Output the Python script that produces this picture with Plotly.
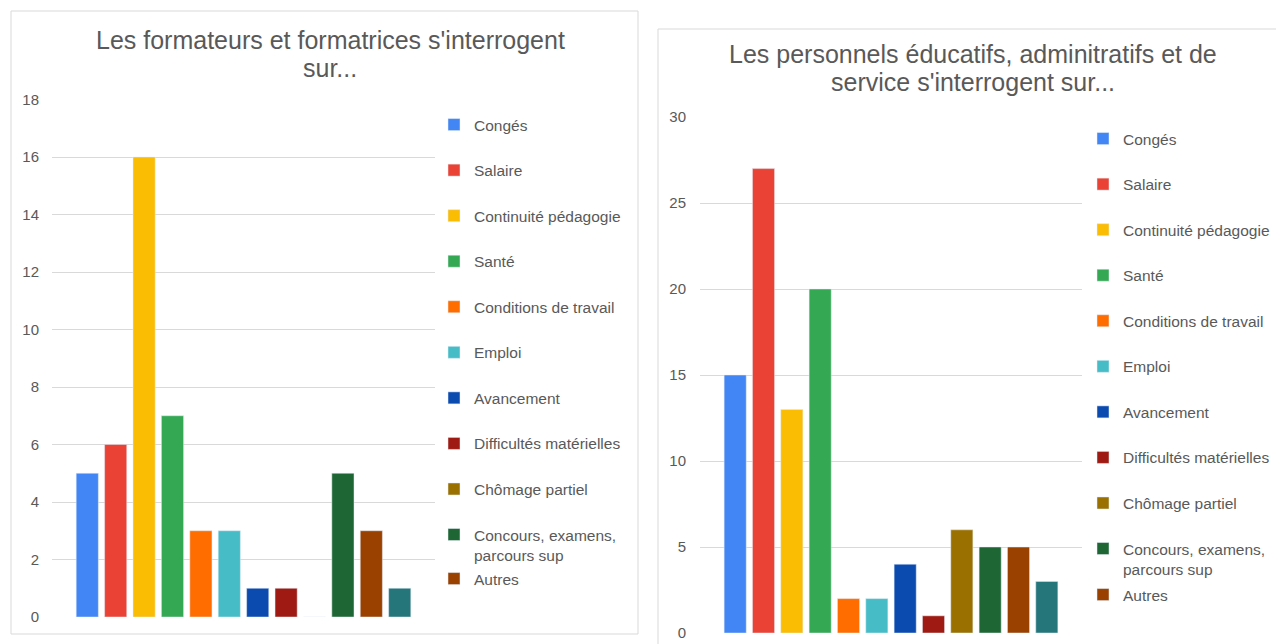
import plotly.graph_objects as go

W, H = 1276, 644

categories = ["Congés", "Salaire", "Continuité pédagogie", "Santé",
              "Conditions de travail", "Emploi", "Avancement",
              "Difficultés matérielles", "Chômage partiel",
              "Concours, examens,<br>parcours sup", "Autres", ""]
formateurs = [5, 6, 16, 7, 3, 3, 1, 1, 0, 5, 3, 1]
personnels = [15, 27, 13, 20, 2, 2, 4, 1, 6, 5, 5, 3]
colors = ["#4285F4", "#EA4335", "#FBBC04", "#34A853", "#FF6D01", "#46BDC6",
          "#0B4BB0", "#9E1A12", "#9A7100", "#1E6633", "#9B4100", "#24767A"]
title_left = ["Les formateurs et formatrices s'interrogent", "sur..."]
title_right = ["Les personnels éducatifs, adminitratifs et de",
               "service s'interrogent sur..."]
left_ticks = list(range(0, 19, 2))
right_ticks = list(range(0, 31, 5))

FONT = "Liberation Sans, Arial, sans-serif"
GREY = "#595959"
GRID = "#d9d9d9"


def px_x(p):
    return p / W


def px_y(p):
    return 1 - p / H


fig = go.Figure()
for i, (cat, col) in enumerate(zip(categories, colors)):
    show = cat != ""
    leg = "legend3" if cat == "Autres" else "legend"
    fig.add_trace(go.Bar(x=["q"], y=[formateurs[i]], name=cat, marker_color=col,
                         xaxis="x", yaxis="y", legend=leg,
                         legendgroup="a%d" % i, showlegend=show))
for i, (cat, col) in enumerate(zip(categories, colors)):
    show = cat != ""
    leg = "legend4" if cat == "Autres" else "legend2"
    fig.add_trace(go.Bar(x=["q"], y=[personnels[i]], name=cat, marker_color=col,
                         xaxis="x2", yaxis="y2", legend=leg,
                         legendgroup="b%d" % i, showlegend=show))

axis_common = dict(showgrid=True, gridcolor=GRID, gridwidth=1, zeroline=False,
                   tickfont=dict(family=FONT, size=15, color=GREY), ticks="",
                   showline=False, fixedrange=True, automargin=False)
xcommon = dict(showticklabels=False, showgrid=False, zeroline=False, ticks="",
               showline=False, fixedrange=True, automargin=False)

legend_common = dict(font=dict(family=FONT, size=15.5, color=GREY),
                     bgcolor="rgba(0,0,0,0)", tracegroupgap=22.4,
                     traceorder="grouped", valign="top",
                     xanchor="left", yanchor="top", itemclick=False,
                     itemdoubleclick=False)

fig.update_layout(
    width=W, height=H,
    margin=dict(l=0, r=0, t=0, b=0, pad=0, autoexpand=False),
    paper_bgcolor="white", plot_bgcolor="white",
    barmode="group", bargap=0.11, bargroupgap=0.22,
    xaxis=dict(domain=[px_x(52), px_x(435)], anchor="y", **xcommon),
    yaxis=dict(domain=[px_y(617), px_y(99.5)], range=[0, 18], tickvals=left_ticks,
               anchor="x", ticklabelstandoff=12, **axis_common),
    xaxis2=dict(domain=[px_x(700), px_x(1082)], anchor="y2", **xcommon),
    yaxis2=dict(domain=[px_y(633), px_y(117)], range=[0, 30], tickvals=right_ticks,
                anchor="x2", ticklabelstandoff=13, **axis_common),
    legend=dict(x=px_x(434), y=px_y(108), **legend_common),
    legend2=dict(x=px_x(1083), y=px_y(122), **legend_common),
    legend3=dict(x=px_x(434), y=px_y(562), **legend_common),
    legend4=dict(x=px_x(1083), y=px_y(578), **legend_common),
    showlegend=True,
)

# panel borders
fig.add_shape(type="rect", xref="paper", yref="paper",
              x0=px_x(11), x1=px_x(638), y0=px_y(634), y1=px_y(11),
              line=dict(color=GRID, width=1), fillcolor="rgba(0,0,0,0)", layer="below")
fig.add_shape(type="rect", xref="paper", yref="paper",
              x0=px_x(658), x1=px_x(1300), y0=px_y(660), y1=px_y(29),
              line=dict(color=GRID, width=1), fillcolor="rgba(0,0,0,0)", layer="below")

# titles (one annotation per line to keep the tight line spacing)
for k, line in enumerate(title_left):
    fig.add_annotation(text=line, xref="paper", yref="paper", x=px_x(330),
                       y=px_y(40 + 28 * k), xanchor="center", yanchor="middle",
                       showarrow=False, font=dict(family=FONT, size=25, color=GREY))
for k, line in enumerate(title_right):
    fig.add_annotation(text=line, xref="paper", yref="paper", x=px_x(973),
                       y=px_y(54 + 28 * k), xanchor="center", yanchor="middle",
                       showarrow=False, font=dict(family=FONT, size=25, color=GREY))

fig.write_html("out.html",
               config={"displayModeBar": False},
               post_script="document.body.style.margin='0';"
                           "document.body.style.overflow='hidden';")
